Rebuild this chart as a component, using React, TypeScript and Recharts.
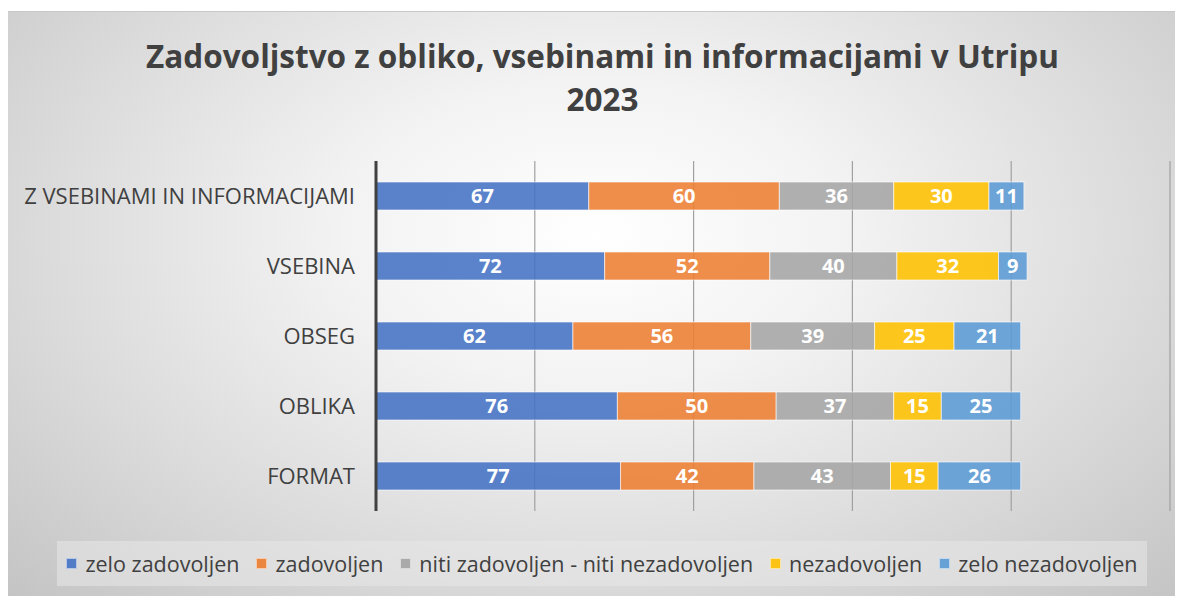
import React from 'react';
import { BarChart, Bar, XAxis, YAxis, CartesianGrid, LabelList } from 'recharts';

const categories = ['Z VSEBINAMI IN INFORMACIJAMI', 'VSEBINA', 'OBSEG', 'OBLIKA', 'FORMAT'];
const zeloZadovoljen = [67, 72, 62, 76, 77];
const zadovoljen = [60, 52, 56, 50, 42];
const niti = [36, 40, 39, 37, 43];
const nezadovoljen = [30, 32, 25, 15, 15];
const zeloNezadovoljen = [11, 9, 21, 25, 26];
const xTicks = [0, 50, 100, 150, 200, 250];

const seriesDefs = [
  { key: 'zz', name: 'zelo zadovoljen', color: '#4472C4', values: zeloZadovoljen },
  { key: 'z', name: 'zadovoljen', color: '#ED7D31', values: zadovoljen },
  { key: 'n', name: 'niti zadovoljen - niti nezadovoljen', color: '#A5A5A5', values: niti },
  { key: 'nz', name: 'nezadovoljen', color: '#FFC000', values: nezadovoljen },
  { key: 'znz', name: 'zelo nezadovoljen', color: '#5B9BD5', values: zeloNezadovoljen },
];

const data = categories.map((c, i) => {
  const row: any = { cat: c };
  seriesDefs.forEach((s) => (row[s.key] = s.values[i]));
  return row;
});

const FONT = '"Open Sans", sans-serif';

export default function App() {
  return (
    <div
      style={{
        position: 'relative',
        marginTop: 3,
        width: 1175,
        height: 585,
        borderTop: '1px solid #c8c8c8',
        background:
          'radial-gradient(ellipse farthest-corner at 50% 38%, #ffffff 0%, #f3f3f3 30%, #dcdcdc 65%, #c4c4c4 100%)',
        fontFamily: FONT,
      }}
    >
      <div
        style={{
          position: 'absolute',
          top: 22,
          left: 7,
          width: 1175,
          textAlign: 'center',
          fontFamily: FONT,
          fontWeight: 700,
          fontSize: 31.5,
          lineHeight: '43px',
          color: '#404040',
        }}
      >
        Zadovoljstvo z obliko, vsebinami in informacijami v Utripu
        <br />
        2023
      </div>
      <div style={{ position: 'absolute', top: 0, left: 0 }}>
        <BarChart
          width={1175}
          height={585}
          data={data}
          layout="vertical"
          margin={{ top: 149, right: 13, bottom: 86, left: 0 }}
          barSize={28}
        >
          <CartesianGrid horizontal={false} vertical={true} stroke="#a0a0a0" strokeWidth={1.2} />
          <XAxis type="number" domain={[0, 250]} ticks={xTicks} hide />
          <YAxis
            type="category"
            dataKey="cat"
            width={368}
            axisLine={{ stroke: '#404040', strokeWidth: 3 }}
            tickLine={false}
            tickSize={0}
            tickMargin={21}
            tick={{ fill: '#404040', fontSize: 22, fontFamily: FONT }}
          />
          {seriesDefs.map((s) => (
            <Bar
              key={s.key}
              dataKey={s.key}
              name={s.name}
              stackId="a"
              fill={s.color}
              fillOpacity={0.88}
              stroke="#ffffff"
              strokeOpacity={0.6}
              strokeWidth={1}
              isAnimationActive={false}
            >
              <LabelList
                dataKey={s.key}
                position="center"
                fill="#ffffff"
                fontWeight={700}
                fontSize={20}
                fontFamily={FONT}
              />
            </Bar>
          ))}
        </BarChart>
      </div>
      <div
        style={{
          position: 'absolute',
          left: 49,
          top: 529,
          width: 1090,
          height: 45,
          display: 'flex',
          justifyContent: 'center',
          alignItems: 'center',
          background: 'rgba(232,232,232,0.55)',
          fontFamily: FONT,
          fontSize: 21.5,
          color: '#404040',
          whiteSpace: 'nowrap',
        }}
      >
        {seriesDefs.map((s, i) => (
          <span
            key={s.key}
            style={{ display: 'inline-flex', alignItems: 'center', marginRight: i < seriesDefs.length - 1 ? 17 : 0 }}
          >
            <span
              style={{
                display: 'inline-block',
                width: 9,
                height: 9,
                background: s.color,
                opacity: 0.9,
                border: '1px solid rgba(255,255,255,0.6)',
                marginRight: 8,
              }}
            />
            {s.name}
          </span>
        ))}
      </div>
    </div>
  );
}
